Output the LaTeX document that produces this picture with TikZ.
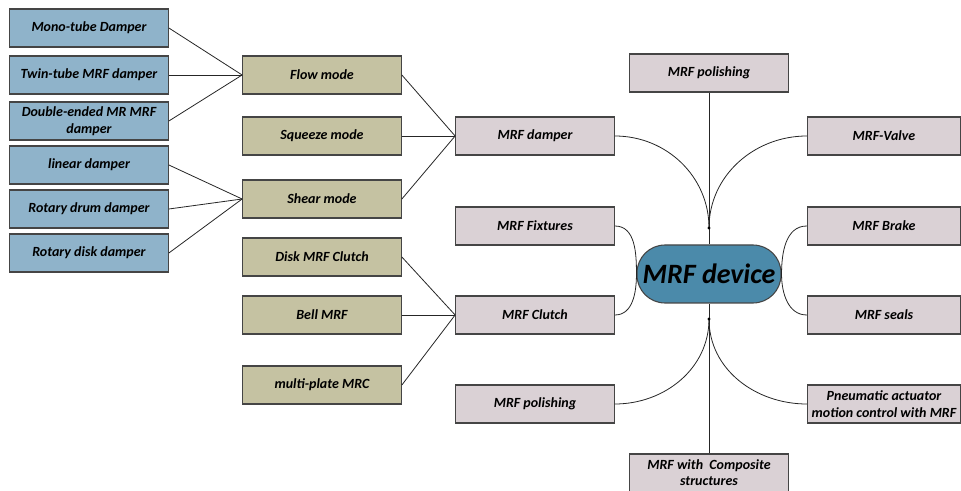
\documentclass[tikz,border=0pt]{standalone}
\usepackage{fontspec}
\setmainfont{Carlito}
\usetikzlibrary{positioning}

\definecolor{bluefill}{HTML}{8FB3CA}
\definecolor{olivefill}{HTML}{C5C2A2}
\definecolor{pinkfill}{HTML}{DAD1D5}
\definecolor{devfill}{HTML}{4B8AAA}
\definecolor{edgegray}{HTML}{454545}

\tikzset{
  box/.style={draw=edgegray, line width=0.8pt, inner sep=0pt, align=center,
    minimum width=119pt, minimum height=28.5pt,
    font=\fontsize{10.5}{13}\selectfont\bfseries\itshape},
  bluebox/.style={box, fill=bluefill},
  olivebox/.style={box, fill=olivefill},
  pinkbox/.style={box, fill=pinkfill},
  rightbox/.style={pinkbox, minimum width=115pt},
  devbox/.style={draw=edgegray, line width=0.8pt, fill=devfill, inner sep=0pt,
    minimum width=108pt, minimum height=43.5pt, rounded corners=21pt,
    font=\fontsize{21}{24}\selectfont\bfseries\itshape},
  link/.style={draw=black!85, line width=0.6pt},
  joint/.style={fill=black, circle, inner sep=0pt, minimum size=2.5pt}
}

\begin{document}
\begin{tikzpicture}[x=0.75pt, y=-0.75pt]
  \useasboundingbox (0,0) rectangle (961,491);

  % Draw the damper types
  \node[bluebox] (mono) at (89,28) {Mono-tube Damper};
  \node[bluebox] (twin) at (89,75) {Twin-tube MRF damper};
  \node[bluebox] (double) at (89,121) {Double-ended MR MRF\\damper};
  \node[bluebox] (linear) at (89,165) {linear damper};
  \node[bluebox] (drum) at (89,209) {Rotary drum damper};
  \node[bluebox] (disk) at (89,253) {Rotary disk damper};

  % Draw the modes and clutch types
  \node[olivebox] (flow) at (322,75) {Flow mode};
  \node[olivebox] (squeeze) at (322,136) {Squeeze mode};
  \node[olivebox] (shear) at (322,199) {Shear mode};
  \node[olivebox] (diskclutch) at (322,257) {Disk MRF Clutch};
  \node[olivebox] (bell) at (322,315) {Bell MRF};
  \node[olivebox] (multi) at (322,385) {multi-plate MRC};

  % Draw the left branches
  \node[pinkbox] (damper) at (535,136) {MRF damper};
  \node[pinkbox] (fixtures) at (535,226) {MRF Fixtures};
  \node[pinkbox] (clutch) at (535,315) {MRF Clutch};
  \node[pinkbox] (polishlow) at (535,404) {MRF polishing};

  % Draw the top and bottom branches
  \node[pinkbox] (polishtop) at (709,73) {MRF polishing};
  \node[pinkbox, font=\fontsize{10.5}{12}\selectfont\bfseries\itshape]
    (composite) at (709,473) {MRF with\ \ Composite\\structures};

  % Draw the right branches
  \node[rightbox] (valve) at (884,136) {MRF-Valve};
  \node[rightbox] (brake) at (884,226) {MRF Brake};
  \node[rightbox] (seals) at (884,315) {MRF seals};
  \node[rightbox] (pneumatic) at (884,404) {Pneumatic actuator\\motion control with MRF};

  % Draw the central node
  \node[devbox] (device) at (709,274) {MRF device};
  \coordinate (topjoint) at (709,228);
  \coordinate (botjoint) at (709,319);

  % Draw the wires into the modes
  \draw[link] (mono.east) -- (flow.west);
  \draw[link] (twin.east) -- (flow.west);
  \draw[link] (double.east) -- (flow.west);
  \draw[link] (linear.east) -- (shear.west);
  \draw[link] (drum.east) -- (shear.west);
  \draw[link] (disk.east) -- (shear.west);

  % Draw the wires into the damper and the clutch
  \draw[link] (flow.east) -- (damper.west);
  \draw[link] (squeeze.east) -- (damper.west);
  \draw[link] (shear.east) -- (damper.west);
  \draw[link] (diskclutch.east) -- (clutch.west);
  \draw[link] (bell.east) -- (clutch.west);
  \draw[link] (multi.east) -- (clutch.west);

  % Draw the curves round the central node
  \draw[link] (polishtop.south) -- (device.north);
  \draw[link] (composite.north) -- (device.south);
  \draw[link] (damper.east) to[out=0, in=90] (topjoint);
  \draw[link] (valve.west) to[out=180, in=90] (topjoint);
  \draw[link] (polishlow.east) to[out=0, in=-90] (botjoint);
  \draw[link] (pneumatic.west) to[out=180, in=-90] (botjoint);
  \draw[link] (fixtures.east) to[out=0, in=90] (device.west);
  \draw[link] (clutch.east) to[out=0, in=-90] (device.west);
  \draw[link] (brake.west) to[out=180, in=90] (device.east);
  \draw[link] (seals.west) to[out=180, in=-90] (device.east);
  \node[joint] at (topjoint) {};
  \node[joint] at (botjoint) {};
\end{tikzpicture}
\end{document}
